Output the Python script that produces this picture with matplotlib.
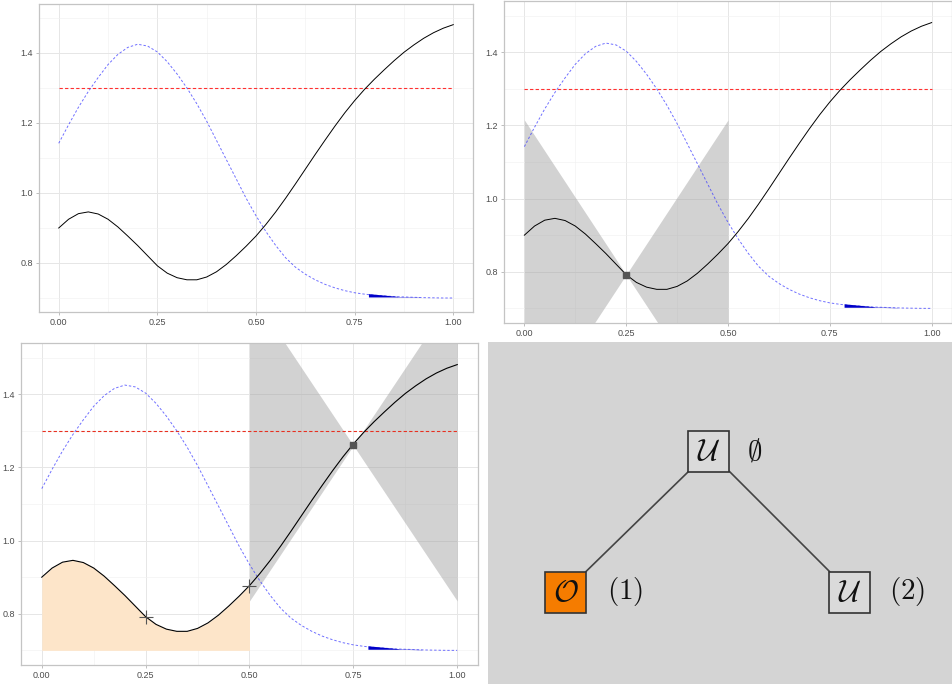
import matplotlib as mpl

mpl.use("Agg")

import matplotlib.pyplot as plt
import numpy as np
from matplotlib.patches import Rectangle
from matplotlib.ticker import FixedLocator, MultipleLocator

plt.rcParams["font.family"] = ["Liberation Sans", "DejaVu Sans"]
plt.rcParams["mathtext.fontset"] = "cm"

# values
x_grid = np.linspace(0.0, 1.0, 41)
f_true = [0.900, 0.925, 0.941, 0.946, 0.940, 0.925, 0.903, 0.877, 0.850, 0.821,
          0.792, 0.771, 0.758, 0.752, 0.752, 0.760, 0.775, 0.796, 0.821, 0.848,
          0.877, 0.910, 0.946, 0.985, 1.026, 1.068, 1.110, 1.151, 1.191, 1.229,
          1.264, 1.296, 1.325, 1.352, 1.378, 1.402, 1.423, 1.442, 1.458, 1.471,
          1.481]
g_blue = [1.142, 1.195, 1.245, 1.290, 1.330, 1.367, 1.396, 1.416, 1.425, 1.420,
          1.403, 1.375, 1.340, 1.300, 1.255, 1.205, 1.150, 1.095, 1.040, 0.985,
          0.935, 0.890, 0.850, 0.815, 0.788, 0.768, 0.752, 0.739, 0.729, 0.721,
          0.715, 0.711, 0.708, 0.706, 0.704, 0.703, 0.702, 0.701, 0.7005, 0.700,
          0.700]
threshold = 1.3

wedge_x = [0.785, 0.860]
wedge_lo = [0.7030, 0.7030]
wedge_hi = [0.7125, 0.7045]
tail_x = [0.860, 0.915]
tail_lo = [0.7030, 0.7015]
tail_hi = [0.7045, 0.7025]

cone1_x = [0.0, 0.25, 0.5]
cone1_lo = [0.369, 0.792, 0.369]
cone1_hi = [1.215, 0.792, 1.215]
cone1_pt = (0.25, 0.792)

cone2_x = [0.5, 0.75, 1.0]
cone2_lo = [0.835, 1.260, 0.835]
cone2_hi = [1.685, 1.260, 1.685]
cone2_pt = (0.75, 1.260)

area_floor = 0.70
area_end = 0.5
plus_x = [0.25, 0.50]
plus_y = [0.790, 0.877]

x_ticks = [0.0, 0.25, 0.5, 0.75, 1.0]
x_labels = ["0.00", "0.25", "0.50", "0.75", "1.00"]
y_ticks = [0.8, 1.0, 1.2, 1.4]
y_labels = ["0.8", "1.0", "1.2", "1.4"]

tree_labels = [r"$\mathcal{U}$", r"$\mathcal{O}$", r"$\mathcal{U}$"]
tree_tags = [r"$\emptyset$", r"$(1)$", r"$(2)$"]
tree_edges = [(0, 1), (0, 2)]

W, H = 953, 684


def px_axes(fig, left, top, right, bottom):
    return fig.add_axes([left / W, 1 - bottom / H, (right - left) / W, (bottom - top) / H])


def base_panel(ax, red="#ff3030"):
    ax.set_xlim(-0.05, 1.05)
    ax.set_ylim(0.66, 1.54)
    ax.set_xticks(x_ticks, x_labels)
    ax.set_yticks(y_ticks, y_labels)
    ax.xaxis.set_minor_locator(MultipleLocator(0.125))
    ax.yaxis.set_minor_locator(FixedLocator([0.7, 0.9, 1.1, 1.3, 1.5]))
    ax.grid(True, which="major", color="#e6e6e6", linewidth=0.7, zorder=0)
    ax.grid(True, which="minor", color="#f1f1f1", linewidth=0.45, zorder=0)
    ax.set_axisbelow(True)
    ax.tick_params(which="major", labelsize=6.5, labelcolor="#4d4d4d", color="#b3b3b3",
                   length=2.2, width=0.6, pad=2)
    ax.tick_params(which="minor", length=0)
    for s in ax.spines.values():
        s.set_color("#c4c4c4")
        s.set_linewidth(0.9)
    ax.plot([0, 1], [threshold, threshold], color=red, linestyle=(0, (3, 2)), linewidth=0.8, zorder=3)
    ax.plot(x_grid, g_blue, color="#4040ff", alpha=0.75, linestyle=(0, (2.5, 2)), linewidth=0.7, zorder=3)
    ax.fill_between(wedge_x, wedge_lo, wedge_hi, color="#0000c8", linewidth=0, zorder=4)
    ax.fill_between(tail_x, tail_lo, tail_hi, color="#5050e0", linewidth=0, zorder=4)


fig = plt.figure(figsize=(W / 100, H / 100), dpi=100)
fig.patch.set_facecolor("white")

# panel 1
ax1 = px_axes(fig, 39, 4, 473, 312)
base_panel(ax1)
ax1.plot(x_grid, f_true, color="black", linewidth=0.7, zorder=5)

# panel 2
ax2 = px_axes(fig, 504, 1, 952, 323)
ax2.fill_between(cone1_x, cone1_lo, cone1_hi, color="#a0a0a0", alpha=0.47, linewidth=0, zorder=2)
base_panel(ax2)
ax2.plot(x_grid, f_true, color="black", linewidth=0.7, zorder=5)
ax2.plot(*cone1_pt, marker="s", color="#555555", markersize=4.5, zorder=6)

# panel 3
ax3 = px_axes(fig, 21, 343, 478, 665)
mask = x_grid <= area_end + 1e-9
ax3.fill_between(x_grid[mask], area_floor, np.asarray(f_true)[mask], color="#fde5c9", linewidth=0, zorder=2)
ax3.fill_between(cone2_x, cone2_lo, cone2_hi, color="#a0a0a0", alpha=0.47, linewidth=0, zorder=2)
base_panel(ax3, red="#e83020")
ax3.plot(x_grid, f_true, color="black", linewidth=0.8, zorder=5)
ax3.plot(*cone2_pt, marker="s", color="#555555", markersize=4.5, zorder=6)
ax3.plot(plus_x, plus_y, linestyle="none", marker="+", color="#555555", markersize=10,
         markeredgewidth=0.8, zorder=6)

# panel 4: tree
ax4 = px_axes(fig, 488, 342, 953, 684)
ax4.set_facecolor("#d4d4d4")
ax4.set_xlim(0, 465)
ax4.set_ylim(342, 0)
ax4.set_xticks([])
ax4.set_yticks([])
for s in ax4.spines.values():
    s.set_visible(False)

centers = [(221, 109), (77.5, 250), (362, 250)]
faces = ["#dadada", "#f57c00", "#dadada"]
tag_x = [259, 119, 401]
half = 20.5
for a, b in tree_edges:
    (xa, ya), (xb, yb) = centers[a], centers[b]
    sx = 1 if xb > xa else -1
    ax4.plot([xa + sx * half, xb - sx * half], [ya + half, yb - half], color="#444444", linewidth=1.2, zorder=1)
for (cx, cy), face, lab, tag, tx in zip(centers, faces, tree_labels, tree_tags, tag_x):
    ax4.add_patch(Rectangle((cx - half, cy - half), 2 * half, 2 * half, facecolor=face,
                            edgecolor="#333333", linewidth=1.2, zorder=2))
    ax4.text(cx, cy + 1, lab, fontsize=22, ha="center", va="center", color="#111111", zorder=3)
    ax4.text(tx, cy, tag, fontsize=21, ha="left", va="center", color="#111111", zorder=3)

fig.savefig("out.png", dpi=100, facecolor="white")
